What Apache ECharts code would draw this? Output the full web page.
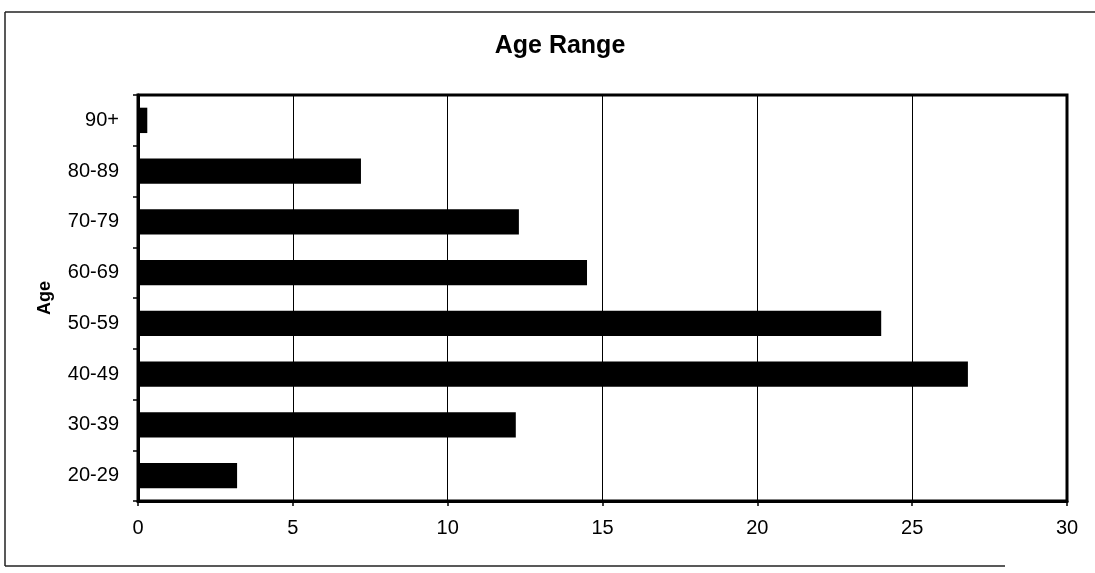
<!DOCTYPE html>
<html>
<head>
<meta charset="utf-8">
<script src="https://cdn.jsdelivr.net/npm/echarts@6/dist/echarts.min.js"></script>
<style>
html,body{margin:0;padding:0;background:#fff;}
#chart{width:1095px;height:573px;}
</style>
</head>
<body>
<div id="chart"></div>
<script>
const categories = ['20-29', '30-39', '40-49', '50-59', '60-69', '70-79', '80-89', '90+'];
const values = [3.2, 12.2, 26.8, 24.0, 14.5, 12.3, 7.2, 0.3];
const xTicks = [0, 5, 10, 15, 20, 25, 30];
const titleText = 'Age Range';
const yAxisTitle = 'Age';

const chart = echarts.init(document.getElementById('chart'));
const font = 'Arial, "Liberation Sans", Helvetica, sans-serif';
chart.setOption({
  backgroundColor: '#ffffff',
  animation: false,
  title: {
    text: titleText,
    left: 555, top: 29, textAlign: 'center',
    textStyle: { fontFamily: font, fontSize: 25, fontWeight: 'bold', color: '#000' }
  },
  graphic: [
    { type: 'line', shape: { x1: 5, y1: 12, x2: 1095, y2: 12 }, style: { stroke: '#222', lineWidth: 1.5 } },
    { type: 'line', shape: { x1: 5, y1: 12, x2: 5, y2: 566 }, style: { stroke: '#222', lineWidth: 1.5 } },
    { type: 'line', shape: { x1: 5, y1: 566, x2: 1005, y2: 566 }, style: { stroke: '#222', lineWidth: 1.5 } }
  ],
  grid: { left: 138, right: 28, top: 95, bottom: 72, show: true, borderColor: '#000', borderWidth: 3, backgroundColor: 'transparent' },
  xAxis: {
    type: 'value', min: xTicks[0], max: xTicks[xTicks.length - 1], interval: 5,
    axisLine: { show: true, lineStyle: { color: '#000', width: 3 } },
    axisTick: { show: true, length: 5, lineStyle: { color: '#000', width: 1.5 } },
    axisLabel: { fontFamily: font, fontSize: 20, color: '#000', margin: 17 },
    splitLine: { show: true, lineStyle: { color: '#000', width: 1 } }
  },
  yAxis: {
    type: 'category', data: categories,
    name: yAxisTitle, nameLocation: 'middle', nameGap: 84, nameRotate: 90,
    nameTextStyle: { fontFamily: font, fontSize: 18, fontWeight: 'bold', color: '#000' },
    axisLine: { show: true, lineStyle: { color: '#000', width: 3 } },
    axisTick: { show: true, length: 5, alignWithLabel: false, lineStyle: { color: '#000', width: 1.5 } },
    axisLabel: { fontFamily: font, fontSize: 20, color: '#000', margin: 19 },
    splitLine: { show: false }
  },
  series: [{
    type: 'bar', data: values, barCategoryGap: '50%',
    itemStyle: { color: '#000' }
  }]
});
</script>
</body>
</html>
